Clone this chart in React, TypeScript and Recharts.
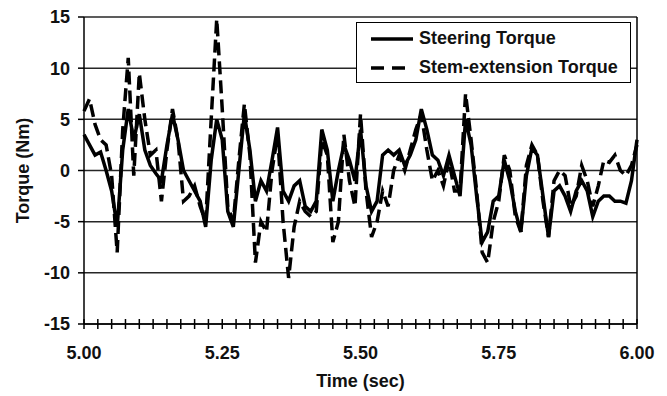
import { LineChart, Line, XAxis, YAxis, CartesianGrid, Legend, ReferenceLine } from "recharts";

// samples every 0.01 s from 5.00 to 6.00 s
const steeringTorque = [
  3.5, 2.5, 1.5, 1.8, 0, -2, -5.5, 2, 6, 3,
  5.5, 2, 0.5, -0.3, -1, 2.5, 5.5, 3, 0, -1,
  -2, -3, -5.5, 1, 5, 3, -4, -5.5, 0, 5.5,
  2, -3, -1, -2, 1, 4.2, -2, -3, -1.5, -1,
  -3.5, -4, -3, 4, 2, -3, 0, 2.5, 1, -1,
  4, -1.5, -4, -3, 1.5, 2, 1.5, 2, 0.5, 1.5,
  3, 6, 4, 1.5, 1, -0.5, 1.5, -0.5, -2.5, 5,
  2.5, -2.5, -7, -6, -3, -2.5, 1, -1, -4, -6,
  -0.5, 2.2, 1.5, -2.5, -6.5, -2, -1.5, -2.5, -4, -2,
  -1, -2, -4.5, -3, -2.5, -2.5, -3, -3, -3.2, -1,
  3,
];

const stemExtensionTorque = [
  5.8, 7, 4.5, 3, 2.5, -0.5, -8, 4, 11, -0.5,
  9.5, 5, 1.5, 2, -3, 2, 6, 3, -3, -2.5,
  -1.5, -3.5, -5, 5, 14.8, 6, -3.5, -5, 1, 6.5,
  1.5, -9, -5, -6, 0, 3.5, -5, -10.5, -5.5, -3,
  -4, -4.5, -4, 3, 1.5, -7, -5, 3.5, -1, -3.5,
  5.5, -2, -6.5, -5, -2, -3.5, 0, 1.5, 0, 2,
  4, 5.5, 2, -1, 0, -1.5, 1, -2, -2, 7.5,
  3, -2, -8, -9, -5, -3, 1.5, 0, -4.5, -6,
  0.5, 2.5, 1.5, -3, -6.5, -1, 0, -0.5, -3.5, -2.5,
  0.5, -1, -3.5, -1.5, 1, 0.8, 1.5, 0, -0.5, 0.5,
  2.5,
];

const labelledTimes = [5.0, 5.25, 5.5, 5.75, 6.0];
const torqueTicks = [-15, -10, -5, 0, 5, 10, 15];
const timeTicks = Array.from({ length: 41 }, (_, i) => +(5 + i * 0.025).toFixed(3));

const data = steeringTorque.map((s, i) => ({
  time: +(5 + i * 0.01).toFixed(2),
  steering: s,
  stem: stemExtensionTorque[i],
}));

const FONT = "'Liberation Sans', Arial, sans-serif";

const TimeTick = ({ x, y, payload }: any) => {
  const v = payload.value;
  const show = labelledTimes.some((t) => Math.abs(t - v) < 1e-6);
  return (
    <g>
      <line x1={x} x2={x} y1={y - 5} y2={y + 5} stroke="#000" strokeWidth={1.5} />
      {show && (
        <text x={x} y={y + 29} textAnchor="middle" dominantBaseline="central"
          fontFamily={FONT} fontSize={18} fontWeight="bold" fill="#111">
          {v.toFixed(2)}
        </text>
      )}
    </g>
  );
};

const legendRows = [
  { name: "Steering Torque", dash: undefined },
  { name: "Stem-extension Torque", dash: "13 8" },
];

const LegendBox = () => (
  <div style={{
    border: "1.5px solid #000", background: "#fff", width: 273, height: 58,
    fontFamily: FONT, fontSize: 18, fontWeight: "bold", color: "#111", paddingTop: 1,
  }}>
    {legendRows.map((r) => (
      <div key={r.name} style={{ display: "flex", alignItems: "center", height: 29 }}>
        <svg width={57} height={10}>
          <line x1={14} x2={56} y1={5} y2={5} stroke="#000" strokeWidth={3.5} strokeDasharray={r.dash} />
        </svg>
        <span style={{ marginLeft: 5 }}>{r.name}</span>
      </div>
    ))}
  </div>
);

export default function App() {
  return (
    <div style={{ width: 659, height: 388, background: "#fff" }}>
      <LineChart width={659} height={388} data={data}
        margin={{ top: 9, right: 30, left: 0, bottom: 32 }}>
        <CartesianGrid horizontal vertical={false} stroke="#000" strokeWidth={1.5} strokeOpacity={0.85} />
        <XAxis dataKey="time" type="number" domain={[5, 6]} ticks={timeTicks} interval={0}
          tickSize={0} tickMargin={0} tickLine={false} height={40}
          axisLine={{ stroke: "#000", strokeWidth: 1.5 }} tick={<TimeTick />}
          label={{ value: "Time (sec)", position: "bottom", offset: 10, fontFamily: FONT, fontSize: 18, fontWeight: "bold", fill: "#111" }} />
        <YAxis type="number" domain={[-15, 15]} ticks={torqueTicks} interval={0} width={76}
          tickSize={6} tickMargin={8}
          tick={{ fontFamily: FONT, fontSize: 18, fontWeight: "bold", fill: "#111" }}
          tickLine={{ stroke: "#000", strokeWidth: 1.5 }}
          axisLine={{ stroke: "#000", strokeWidth: 1.5 }}
          label={{ value: "Torque (Nm)", angle: -90, position: "center", dx: -23, fontFamily: FONT, fontSize: 18, fontWeight: "bold", fill: "#111" }} />
        <ReferenceLine x={6} stroke="#000" strokeWidth={1.5} />
        <Legend layout="horizontal" verticalAlign="middle" align="center"
          wrapperStyle={{ top: 14, left: 348, width: "auto" }} content={<LegendBox />} />
        <Line type="linear" dataKey="stem" name="Stem-extension Torque" stroke="#000" strokeWidth={3.5}
          strokeDasharray="13 6" dot={false} isAnimationActive={false} />
        <Line type="linear" dataKey="steering" name="Steering Torque" stroke="#000" strokeWidth={3.5}
          dot={false} isAnimationActive={false} />
      </LineChart>
    </div>
  );
}
